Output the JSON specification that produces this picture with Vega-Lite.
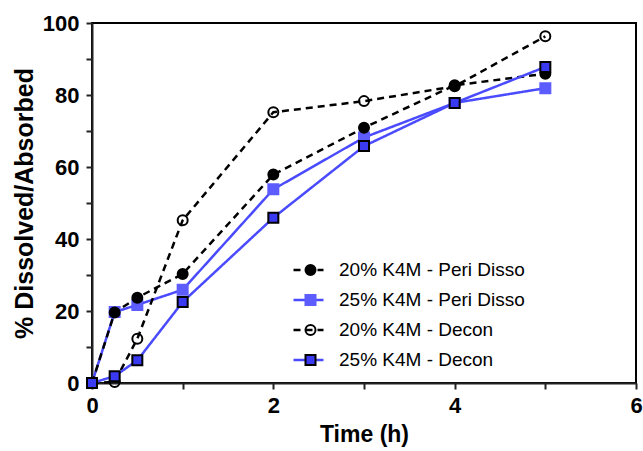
{
  "$schema": "https://vega.github.io/schema/vega-lite/v6.json",
  "width": 544,
  "height": 360,
  "autosize": {"type": "none"},
  "padding": {"left": 92, "top": 23, "right": 7, "bottom": 68},
  "background": "white",
  "config": {
    "view": {"stroke": "black", "strokeWidth": 2},
    "font": "Liberation Sans",
    "axis": {
      "grid": false,
      "domainColor": "#222",
      "domainWidth": 2,
      "tickColor": "#222",
      "tickWidth": 2,
      "tickSize": 6,
      "labelFlush": false,
      "labelFont": "Liberation Sans",
      "labelFontWeight": "bold",
      "labelFontSize": 22,
      "labelColor": "black",
      "titleFont": "Liberation Sans",
      "titleFontWeight": "bold",
      "titleFontSize": 23,
      "titleColor": "black"
    }
  },
  "data": {
    "values": [
      {"series": "25% K4M - Peri Disso", "t": 0, "v": 0},
      {"series": "25% K4M - Peri Disso", "t": 0.25, "v": 19.7},
      {"series": "25% K4M - Peri Disso", "t": 0.5, "v": 21.7},
      {"series": "25% K4M - Peri Disso", "t": 1, "v": 25.9},
      {"series": "25% K4M - Peri Disso", "t": 2, "v": 53.8},
      {"series": "25% K4M - Peri Disso", "t": 3, "v": 68.2},
      {"series": "25% K4M - Peri Disso", "t": 4, "v": 77.8},
      {"series": "25% K4M - Peri Disso", "t": 5, "v": 81.9},
      {"series": "20% K4M - Peri Disso", "t": 0, "v": 0},
      {"series": "20% K4M - Peri Disso", "t": 0.25, "v": 19.6},
      {"series": "20% K4M - Peri Disso", "t": 0.5, "v": 23.7},
      {"series": "20% K4M - Peri Disso", "t": 1, "v": 30.3},
      {"series": "20% K4M - Peri Disso", "t": 2, "v": 57.9},
      {"series": "20% K4M - Peri Disso", "t": 3, "v": 70.9},
      {"series": "20% K4M - Peri Disso", "t": 4, "v": 82.7},
      {"series": "20% K4M - Peri Disso", "t": 5, "v": 85.9},
      {"series": "20% K4M - Decon", "t": 0, "v": 0},
      {"series": "20% K4M - Decon", "t": 0.25, "v": 0.3},
      {"series": "20% K4M - Decon", "t": 0.5, "v": 12.3},
      {"series": "20% K4M - Decon", "t": 1, "v": 45.2},
      {"series": "20% K4M - Decon", "t": 2, "v": 75.2},
      {"series": "20% K4M - Decon", "t": 3, "v": 78.3},
      {"series": "20% K4M - Decon", "t": 4, "v": 82.4},
      {"series": "20% K4M - Decon", "t": 5, "v": 96.3},
      {"series": "25% K4M - Decon", "t": 0, "v": 0},
      {"series": "25% K4M - Decon", "t": 0.25, "v": 1.9},
      {"series": "25% K4M - Decon", "t": 0.5, "v": 6.3},
      {"series": "25% K4M - Decon", "t": 1, "v": 22.5},
      {"series": "25% K4M - Decon", "t": 2, "v": 45.9},
      {"series": "25% K4M - Decon", "t": 3, "v": 65.8},
      {"series": "25% K4M - Decon", "t": 4, "v": 77.8},
      {"series": "25% K4M - Decon", "t": 5, "v": 87.8}
    ]
  },
  "encoding": {
    "x": {
      "field": "t",
      "type": "quantitative",
      "scale": {"domain": [0, 6], "nice": false},
      "axis": {
        "title": "Time (h)",
        "values": [0, 1, 2, 3, 4, 5, 6],
        "labelExpr": "datum.value % 2 === 0 ? datum.label : ''",
        "labelPadding": 6,
        "titlePadding": 7
      }
    },
    "y": {
      "field": "v",
      "type": "quantitative",
      "scale": {"domain": [0, 100], "nice": false},
      "axis": {
        "title": "% Dissolved/Absorbed",
        "titleFontSize": 25,
        "values": [0, 10, 20, 30, 40, 50, 60, 70, 80, 90, 100],
        "labelExpr": "datum.value % 20 === 0 ? datum.label : ''",
        "labelPadding": 7,
        "titlePadding": 5
      }
    }
  },
  "layer": [
    {
      "mark": {"type": "line", "strokeWidth": 2.5},
      "encoding": {
        "color": {
          "field": "series",
          "type": "nominal",
          "scale": {
            "domain": ["20% K4M - Peri Disso", "25% K4M - Peri Disso", "20% K4M - Decon", "25% K4M - Decon"],
            "range": ["black", "#4a4aff", "black", "#4a4aff"]
          },
          "legend": {
            "orient": "none", "legendX": 200, "legendY": 232, "title": null, "padding": 0,
            "symbolType": "stroke", "symbolSize": 900, "symbolStrokeWidth": 2.5,
            "labelFont": "Liberation Sans", "labelFontSize": 19, "labelColor": "black", "labelLimit": 400,
            "labelOffset": 14, "rowPadding": 0, "clipHeight": 30
          }
        },
        "strokeDash": {
          "field": "series",
          "type": "nominal",
          "scale": {
            "domain": ["20% K4M - Peri Disso", "25% K4M - Peri Disso", "20% K4M - Decon", "25% K4M - Decon"],
            "range": [[7, 5], [1, 0], [7, 5], [1, 0]]
          },
          "legend": {
            "orient": "none", "legendX": 200, "legendY": 232, "title": null, "padding": 0,
            "symbolType": "stroke", "symbolSize": 900, "symbolStrokeWidth": 2.5,
            "labelFont": "Liberation Sans", "labelFontSize": 19, "labelColor": "black", "labelLimit": 400,
            "labelOffset": 14, "rowPadding": 0, "clipHeight": 30
          }
        }
      }
    },
    {
      "mark": {"type": "point", "filled": true, "size": 100, "strokeWidth": 2, "opacity": 1},
      "encoding": {
        "shape": {
          "field": "series",
          "type": "nominal",
          "scale": {"range": ["circle", "circle", "square", "square"]},
          "legend": {
            "orient": "none", "legendX": 209, "legendY": 232, "title": null, "padding": 0,
            "values": ["20% K4M - Peri Disso", "25% K4M - Peri Disso", "20% K4M - Decon", "25% K4M - Decon"],
            "labelExpr": "''", "labelFontSize": 19, "rowPadding": 0, "clipHeight": 30,
            "symbolStrokeWidth": 2, "symbolOpacity": 1
          }
        },
        "fill": {
          "field": "series",
          "type": "nominal",
          "scale": {"range": ["transparent", "black", "#3a3af2", "#5c5cff"]},
          "legend": {
            "orient": "none", "legendX": 209, "legendY": 232, "title": null, "padding": 0,
            "values": ["20% K4M - Peri Disso", "25% K4M - Peri Disso", "20% K4M - Decon", "25% K4M - Decon"],
            "labelExpr": "''", "labelFontSize": 19, "rowPadding": 0, "clipHeight": 30,
            "symbolStrokeWidth": 2, "symbolOpacity": 1
          }
        },
        "stroke": {
          "field": "series",
          "type": "nominal",
          "scale": {"range": ["black", "black", "black", "#5c5cff"]},
          "legend": {
            "orient": "none", "legendX": 209, "legendY": 232, "title": null, "padding": 0,
            "values": ["20% K4M - Peri Disso", "25% K4M - Peri Disso", "20% K4M - Decon", "25% K4M - Decon"],
            "labelExpr": "''", "labelFontSize": 19, "rowPadding": 0, "clipHeight": 30,
            "symbolStrokeWidth": 2, "symbolOpacity": 1
          }
        }
      }
    }
  ]
}
